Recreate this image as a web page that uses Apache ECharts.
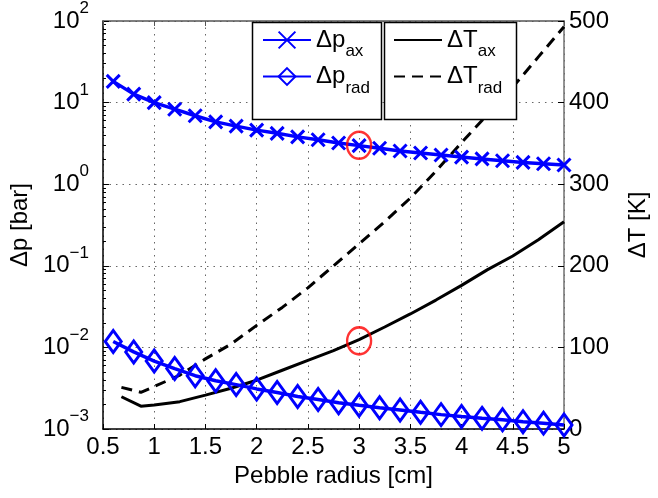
<!DOCTYPE html>
<html><head><meta charset="utf-8">
<script src="https://cdn.jsdelivr.net/npm/echarts@6/dist/echarts.min.js"></script>
<style>html,body{margin:0;padding:0;background:#fff}#c{width:658px;height:498px}</style>
</head><body><div id="c"></div>
<script>
// ---- data ----
const radius = [0.6,0.8,1.0,1.2,1.4,1.6,1.8,2.0,2.2,2.4,2.6,2.8,3.0,3.2,3.4,3.6,3.8,4.0,4.2,4.4,4.6,4.8,5.0];
const dpAx   = [18.2,12.7,10.0,8.3,6.9,5.8,5.15,4.6,4.2,3.8,3.5,3.2,2.97,2.76,2.55,2.41,2.28,2.15,2.04,1.94,1.85,1.78,1.72];
const dpRad  = [0.0118,0.0088,0.0068,0.0055,0.0045,0.0039,0.0035,0.0031,0.0028,0.0025,0.0023,0.0021,0.00195,0.00182,0.00171,0.0016,0.0015,0.00142,0.00135,0.0013,0.00123,0.00118,0.00112];
const tAxR   = [0.68,0.87,1.0,1.25,1.5,1.75,2.0,2.25,2.5,2.75,3.0,3.25,3.5,3.75,4.0,4.25,4.5,4.75,5.0];
const tAx    = [39.5,28,29.3,33.5,41.5,50,59.8,72,84,96,109.5,125,141,158,176,195,212,232,254];
const tRadR  = [0.68,0.87,1.0,1.25,1.5,1.75,2.0,2.25,2.5,2.75,3.0,3.25,3.5,3.75,4.0,4.25,4.5,4.75,5.0];
const tRad   = [51,45,52,66,86,104,127,149,173,200,227,254,283,316,351,385,419,456,493];
const markP  = [[3.0, 3.0]];
const markT  = [[3.0, 108]];
const xMin = 0.5, xMax = 5, xStep = 0.5;
const pMin = 0.001, pMax = 100;
const tMin = 0, tMax = 500, tStep = 100;
const names = {dpax:['Δp','ax'], dprad:['Δp','rad'], tax:['ΔT','ax'], trad:['ΔT','rad']};

const FONT = 'Liberation Sans, Arial, Helvetica, sans-serif';
const BLUE = '#0000ff';
const pair = (xs, ys) => xs.map((x, i) => [x, ys[i]]);

const chart = echarts.init(document.getElementById('c'), null, {renderer: 'canvas'});

const supLabel = v => {
  const e = Math.round(Math.log10(v));
  return '{b|10}{s|' + (e < 0 ? '\u2212' + (-e) : e) + '}';
};
const legendRich = {
  m: {fontSize: 24, fontFamily: FONT, color: '#000', verticalAlign: 'middle', lineHeight: 40},
  s: {fontSize: 17, fontFamily: FONT, color: '#000', verticalAlign: 'bottom', lineHeight: 17}
};
const legendFmt = n => '{m|' + names[n][0] + '}{s|' + names[n][1] + '}';

const dotted = {color: '#666', type: [1.5, 5], width: 1};

chart.setOption({
  animation: false,
  backgroundColor: '#fff',
  textStyle: {fontFamily: FONT},
  grid: {left: 98, right: 83, top: 19.5, bottom: 69, containLabel: false},
  xAxis: [{
    type: 'value', min: xMin, max: xMax, interval: xStep, position: 'bottom',
    name: 'Pebble radius [cm]', nameLocation: 'middle', nameGap: 30,
    nameTextStyle: {fontSize: 24, color: '#000', fontFamily: FONT},
    axisLine: {show: true, lineStyle: {color: '#000', width: 1.5}},
    axisTick: {show: true, inside: true, length: 5, lineStyle: {color: '#000'}},
    axisLabel: {fontSize: 24, color: '#000', margin: 6, fontFamily: FONT},
    splitLine: {show: true, lineStyle: dotted}
  }, {
    type: 'value', min: xMin, max: xMax, interval: xStep, position: 'top',
    axisLine: {show: true, onZero: false, lineStyle: {color: '#555', width: 1.5}},
    axisTick: {show: true, inside: true, length: 5, lineStyle: {color: '#555'}},
    axisLabel: {show: false}, splitLine: {show: false}
  }],
  yAxis: [{
    type: 'log', logBase: 10, min: pMin, max: pMax, position: 'left',
    name: 'Δp [bar]', nameLocation: 'middle', nameRotate: 90, nameGap: 66,
    nameTextStyle: {fontSize: 24, color: '#000', fontFamily: FONT},
    axisLine: {show: true, lineStyle: {color: '#000', width: 1.5}},
    axisTick: {show: true, inside: true, length: 6, lineStyle: {color: '#000'}},
    minorTick: {show: true, splitNumber: 9, length: 3, lineStyle: {color: '#000'}},
    axisLabel: {
      color: '#000', margin: 14, formatter: supLabel,
      rich: {
        b: {fontSize: 24, fontFamily: FONT, color: '#000', verticalAlign: 'middle', lineHeight: 42},
        s: {fontSize: 17, fontFamily: FONT, color: '#000', verticalAlign: 'top', lineHeight: 17}
      }
    },
    splitLine: {show: true, lineStyle: dotted}
  }, {
    type: 'value', min: tMin, max: tMax, interval: tStep, position: 'right',
    name: 'ΔT [K]', nameLocation: 'middle', nameRotate: 90, nameGap: 62,
    nameTextStyle: {fontSize: 24, color: '#000', fontFamily: FONT},
    axisLine: {show: true, lineStyle: {color: '#707070', width: 1.5}},
    axisTick: {show: true, inside: true, length: 6, lineStyle: {color: '#000'}},
    axisLabel: {fontSize: 24, color: '#000', margin: 5, fontFamily: FONT},
    splitLine: {show: false}
  }],
  legend: [{
    data: ['dpax', 'dprad'], orient: 'vertical', left: 262, top: 28, padding: 0,
    itemWidth: 48, itemHeight: 21, itemGap: 4.5, selectedMode: false,
    formatter: legendFmt, textStyle: {rich: legendRich}
  }, {
    data: ['tax', 'trad'], orient: 'vertical', left: 393, top: 28, padding: 0,
    itemWidth: 48, itemHeight: 21, itemGap: 4.5, selectedMode: false,
    formatter: legendFmt, textStyle: {rich: legendRich}
  }],
  graphic: {elements: [
    {type: 'rect', z: 3, shape: {x: 252.5, y: 22.5, width: 129, height: 97}, style: {fill: '#fff', stroke: '#000', lineWidth: 1.5}},
    {type: 'rect', z: 3, shape: {x: 384.5, y: 22.5, width: 132, height: 97}, style: {fill: '#fff', stroke: '#000', lineWidth: 1.5}}
  ]},
  series: [{
    name: 'tax', type: 'line', xAxisIndex: 0, yAxisIndex: 1, data: pair(tAxR, tAx),
    symbol: 'none', lineStyle: {color: '#000', width: 3}, itemStyle: {color: 'rgba(0,0,0,0)'}, z: 2
  }, {
    name: 'trad', type: 'line', xAxisIndex: 0, yAxisIndex: 1, data: pair(tRadR, tRad),
    symbol: 'none', lineStyle: {color: '#000', width: 3, type: [11, 7]}, itemStyle: {color: 'rgba(0,0,0,0)'}, z: 2
  }, {
    name: 'dpax', type: 'line', xAxisIndex: 0, yAxisIndex: 0, data: pair(radius, dpAx),
    symbol: 'path://M0,0L10,10M0,10L10,0', symbolSize: 13, showAllSymbol: true,
    lineStyle: {color: BLUE, width: 3.5},
    itemStyle: {color: 'rgba(0,0,0,0)', borderColor: BLUE, borderWidth: 3}, z: 2
  }, {
    name: 'dprad', type: 'line', xAxisIndex: 0, yAxisIndex: 0, data: pair(radius, dpRad),
    symbol: 'diamond', symbolSize: [16, 22], showAllSymbol: true,
    lineStyle: {color: BLUE, width: 3.5},
    itemStyle: {color: 'rgba(0,0,0,0)', borderColor: BLUE, borderWidth: 3}, z: 2
  }, {
    name: 'markP', type: 'scatter', xAxisIndex: 0, yAxisIndex: 0, data: markP,
    symbol: 'circle', symbolSize: [24, 27],
    itemStyle: {color: 'rgba(0,0,0,0)', borderColor: '#ff0000', borderWidth: 2.5}, z: 3
  }, {
    name: 'markT', type: 'scatter', xAxisIndex: 0, yAxisIndex: 1, data: markT,
    symbol: 'circle', symbolSize: [24, 27],
    itemStyle: {color: 'rgba(0,0,0,0)', borderColor: '#ff0000', borderWidth: 2.5}, z: 3
  }]
});
</script></body></html>
